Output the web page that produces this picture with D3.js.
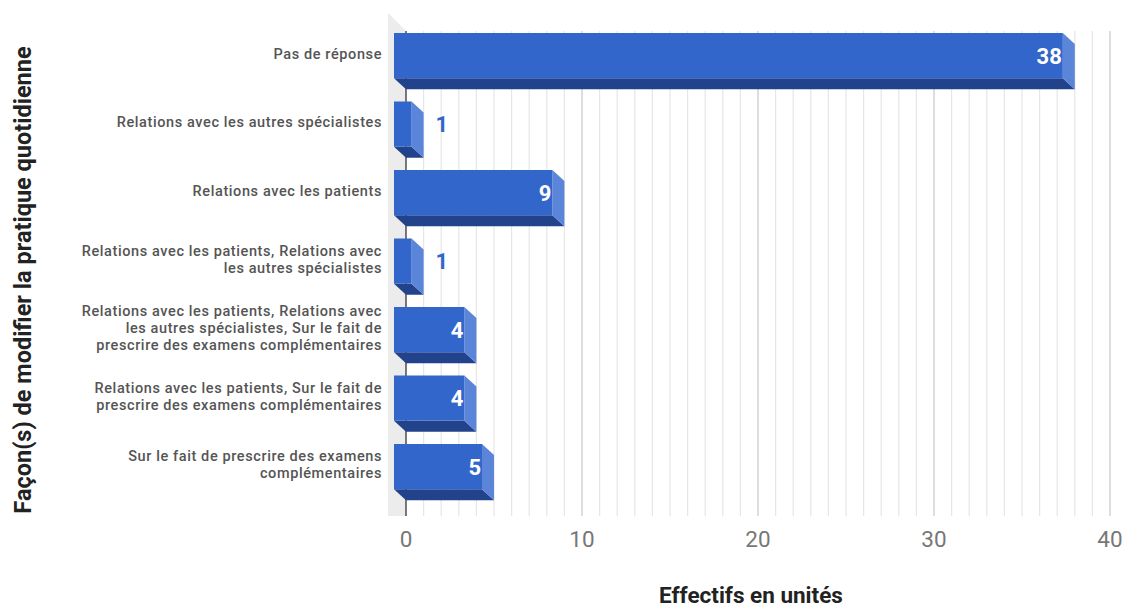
<!DOCTYPE html>
<html><head><meta charset="utf-8">
<script src="https://cdn.jsdelivr.net/npm/d3@7/dist/d3.min.js"></script>
<style>html,body{margin:0;padding:0;background:#fff;}svg{display:block;font-family:Roboto,"Noto Sans",Arial,sans-serif;}</style>
</head><body>
<svg id="chart" width="1128" height="608"></svg>
<script>
const categories = [
  "Pas de réponse",
  "Relations avec les autres spécialistes",
  "Relations avec les patients",
  "Relations avec les patients, Relations avec les autres spécialistes",
  "Relations avec les patients, Relations avec les autres spécialistes, Sur le fait de prescrire des examens complémentaires",
  "Relations avec les patients, Sur le fait de prescrire des examens complémentaires",
  "Sur le fait de prescrire des examens complémentaires"
];
const categoryLabelLines = [
  ["Pas de réponse"],
  ["Relations avec les autres spécialistes"],
  ["Relations avec les patients"],
  ["Relations avec les patients, Relations avec", "les autres spécialistes"],
  ["Relations avec les patients, Relations avec", "les autres spécialistes, Sur le fait de", "prescrire des examens complémentaires"],
  ["Relations avec les patients, Sur le fait de", "prescrire des examens complémentaires"],
  ["Sur le fait de prescrire des examens", "complémentaires"]
];
const values = [38, 1, 9, 1, 4, 4, 5];
const xTicks = [0, 10, 20, 30, 40];
const xTitle = "Effectifs en unités";
const yTitle = "Façon(s) de modifier la pratique quotidienne";

const svg = d3.select("#chart");
const dx = 12, dy = 11;
const x = d3.scaleLinear().domain([0, 40]).range([406, 1110]);
const y = d3.scaleBand().domain(categories).range([21.35, 500.85]).paddingInner(0.34).paddingOuter(0.17);
const gTop = 31, gBottom = 516;

// left wall
svg.append("polygon")
  .attr("points", [[388,13],[x(0),gTop],[x(0),gBottom],[388,gBottom]].map(p=>p.join(",")).join(" "))
  .attr("fill", "#ececec");

// gridlines
const grid = d3.range(0, 41);
svg.append("g").selectAll("line").data(grid).join("line")
  .attr("x1", d => x(d)).attr("x2", d => x(d))
  .attr("y1", gTop).attr("y2", gBottom)
  .attr("stroke", d => d === 0 ? "#333" : (d % 10 === 0 ? "#c8c8c8" : "#e6e6e6"))
  .attr("stroke-width", d => d === 0 ? 1.3 : 1.2);

// bars
const bars = svg.append("g").selectAll("g").data(categories).join("g");
bars.each(function(c, i) {
  const g = d3.select(this);
  const v = values[i];
  const fx0 = x(0) - dx, fx1 = x(v) - dx;
  const fy0 = y(c), fy1 = fy0 + y.bandwidth();
  g.append("polygon")
    .attr("points", [[fx0,fy1],[fx1,fy1],[fx1+dx,fy1+dy],[fx0+dx,fy1+dy]].map(p=>p.join(",")).join(" "))
    .attr("fill", "#22438c");
  g.append("polygon")
    .attr("points", [[fx1,fy0],[fx1+dx,fy0+dy],[fx1+dx,fy1+dy],[fx1,fy1]].map(p=>p.join(",")).join(" "))
    .attr("fill", "#5a85d8");
  g.append("rect")
    .attr("x", fx0).attr("y", fy0).attr("width", fx1 - fx0).attr("height", y.bandwidth())
    .attr("fill", "#3266cb");
  const inside = (fx1 - fx0) > 40;
  g.append("text")
    .attr("x", inside ? fx1 - 1 : x(v) + 12)
    .attr("y", (fy0 + fy1) / 2)
    .attr("dy", "0.36em")
    .attr("text-anchor", inside ? "end" : "start")
    .attr("font-size", 22).attr("font-weight", "bold")
    .attr("fill", inside ? "#ffffff" : "#3366cc")
    .text(v);
});

// category labels
const lh = 17;
svg.append("g").selectAll("text").data(categories).join("text")
  .attr("text-anchor", "end")
  .attr("font-size", 14.5).attr("font-weight", 500).attr("fill", "#555")
  .attr("letter-spacing", "0.6px")
  .each(function(c, i) {
    const lines = categoryLabelLines[i];
    const cy = y(c) + y.bandwidth() / 2 - 2;
    const t = d3.select(this);
    lines.forEach((ln, k) => {
      t.append("tspan").attr("x", 382)
        .attr("y", cy + (k - (lines.length - 1) / 2) * lh)
        .attr("dy", "0.35em").text(ln);
    });
  });

// x tick labels
svg.append("g").selectAll("text").data(xTicks).join("text")
  .attr("x", d => x(d)).attr("y", 539).attr("dy", "0.36em")
  .attr("text-anchor", "middle").attr("font-size", 22.5).attr("fill", "#777")
  .text(d => d);

// titles
svg.append("text").attr("x", 751).attr("y", 603)
  .attr("text-anchor", "middle").attr("font-size", 22.5).attr("font-weight", "bold").attr("fill", "#222")
  .text(xTitle);
svg.append("text").attr("transform", "translate(23,280) rotate(-90)").attr("dy", "0.36em")
  .attr("text-anchor", "middle").attr("font-size", 23.5).attr("font-weight", "bold").attr("fill", "#222")
  .text(yTitle);
</script>
</body></html>
